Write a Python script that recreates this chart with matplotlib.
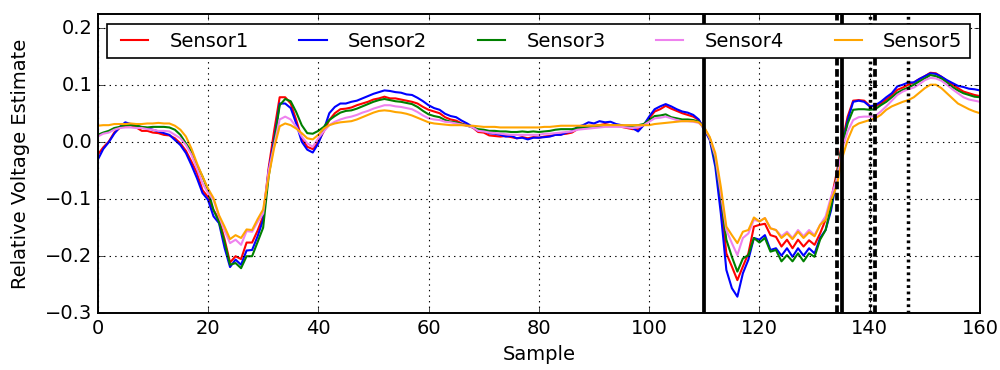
import matplotlib
matplotlib.use("Agg")
import matplotlib.pyplot as plt
import numpy as np

plt.style.use("classic")
plt.rcParams["font.family"] = ["DejaVu Sans"]
plt.rcParams["font.size"] = 14
plt.rcParams["lines.scale_dashes"] = False

samples = np.arange(0, 161)

sensor1 = [
    -0.022, -0.009, 0.001, 0.017, 0.025, 0.029, 0.030, 0.026, 0.020, 0.020,
    0.017, 0.016, 0.013, 0.012, 0.007, -0.002, -0.015, -0.034, -0.054, -0.084,
    -0.096, -0.119, -0.135, -0.170, -0.211, -0.200, -0.205, -0.176, -0.176, -0.155,
    -0.130, -0.045, 0.020, 0.079, 0.079, 0.068, 0.039, 0.007, -0.008, -0.012,
    0.001, 0.019, 0.039, 0.051, 0.058, 0.059, 0.061, 0.065, 0.068, 0.071,
    0.075, 0.077, 0.080, 0.077, 0.077, 0.075, 0.073, 0.071, 0.068, 0.062,
    0.057, 0.054, 0.051, 0.044, 0.040, 0.038, 0.033, 0.030, 0.026, 0.018,
    0.017, 0.012, 0.011, 0.010, 0.011, 0.009, 0.007, 0.009, 0.007, 0.009,
    0.008, 0.010, 0.011, 0.013, 0.014, 0.015, 0.017, 0.023, 0.026, 0.029,
    0.029, 0.030, 0.032, 0.030, 0.029, 0.027, 0.025, 0.023, 0.023, 0.030,
    0.042, 0.054, 0.058, 0.064, 0.059, 0.055, 0.051, 0.048, 0.045, 0.039,
    0.023, 0.007, -0.031, -0.101, -0.195, -0.218, -0.242, -0.218, -0.195, -0.148,
    -0.145, -0.143, -0.163, -0.166, -0.183, -0.171, -0.186, -0.171, -0.183, -0.172,
    -0.180, -0.160, -0.136, -0.101, -0.054, 0.000, 0.045, 0.073, 0.074, 0.073,
    0.064, 0.063, 0.068, 0.075, 0.083, 0.092, 0.096, 0.101, 0.105, 0.111,
    0.116, 0.122, 0.121, 0.115, 0.108, 0.101, 0.095, 0.089, 0.086, 0.083, 0.081,
]

sensor2 = [
    -0.031, -0.012, 0.000, 0.015, 0.027, 0.035, 0.032, 0.030, 0.026, 0.025,
    0.022, 0.019, 0.016, 0.013, 0.004, -0.005, -0.019, -0.040, -0.063, -0.089,
    -0.101, -0.130, -0.142, -0.185, -0.219, -0.206, -0.215, -0.190, -0.189, -0.165,
    -0.136, -0.050, 0.005, 0.068, 0.068, 0.060, 0.033, 0.001, -0.013, -0.018,
    -0.002, 0.022, 0.051, 0.062, 0.068, 0.068, 0.071, 0.073, 0.077, 0.081,
    0.085, 0.088, 0.091, 0.090, 0.088, 0.087, 0.084, 0.083, 0.078, 0.072,
    0.065, 0.060, 0.057, 0.050, 0.046, 0.044, 0.038, 0.033, 0.027, 0.020,
    0.020, 0.016, 0.015, 0.013, 0.010, 0.011, 0.007, 0.008, 0.005, 0.008,
    0.008, 0.009, 0.010, 0.013, 0.013, 0.017, 0.019, 0.027, 0.030, 0.035,
    0.033, 0.037, 0.035, 0.036, 0.032, 0.030, 0.027, 0.025, 0.019, 0.030,
    0.045, 0.058, 0.063, 0.067, 0.063, 0.058, 0.054, 0.052, 0.048, 0.040,
    0.022, 0.004, -0.043, -0.125, -0.224, -0.256, -0.271, -0.230, -0.206, -0.168,
    -0.171, -0.163, -0.189, -0.186, -0.199, -0.186, -0.201, -0.186, -0.199, -0.186,
    -0.195, -0.168, -0.154, -0.119, -0.066, -0.005, 0.039, 0.071, 0.073, 0.071,
    0.063, 0.065, 0.071, 0.079, 0.086, 0.098, 0.101, 0.105, 0.105, 0.111,
    0.116, 0.121, 0.120, 0.115, 0.109, 0.104, 0.099, 0.097, 0.094, 0.093, 0.091,
]

sensor3 = [
    0.013, 0.017, 0.020, 0.025, 0.027, 0.030, 0.030, 0.029, 0.027, 0.026,
    0.027, 0.027, 0.027, 0.026, 0.022, 0.013, -0.002, -0.016, -0.040, -0.060,
    -0.084, -0.119, -0.140, -0.175, -0.215, -0.212, -0.221, -0.200, -0.200, -0.175,
    -0.150, -0.060, 0.000, 0.065, 0.076, 0.072, 0.053, 0.030, 0.016, 0.015,
    0.020, 0.027, 0.039, 0.046, 0.052, 0.055, 0.056, 0.059, 0.063, 0.067,
    0.071, 0.074, 0.076, 0.074, 0.072, 0.071, 0.069, 0.067, 0.062, 0.055,
    0.049, 0.046, 0.044, 0.039, 0.036, 0.035, 0.032, 0.029, 0.026, 0.023,
    0.022, 0.020, 0.020, 0.019, 0.019, 0.018, 0.018, 0.019, 0.018, 0.019,
    0.018, 0.019, 0.020, 0.022, 0.023, 0.023, 0.023, 0.025, 0.026, 0.027,
    0.028, 0.028, 0.029, 0.029, 0.029, 0.029, 0.029, 0.029, 0.030, 0.032,
    0.039, 0.046, 0.047, 0.049, 0.044, 0.042, 0.040, 0.040, 0.039, 0.036,
    0.024, 0.007, -0.031, -0.095, -0.171, -0.201, -0.227, -0.204, -0.198, -0.168,
    -0.176, -0.168, -0.192, -0.189, -0.209, -0.198, -0.209, -0.195, -0.209, -0.195,
    -0.201, -0.171, -0.154, -0.113, -0.060, -0.005, 0.033, 0.057, 0.058, 0.058,
    0.057, 0.058, 0.065, 0.071, 0.079, 0.087, 0.092, 0.096, 0.101, 0.107,
    0.112, 0.118, 0.116, 0.112, 0.105, 0.097, 0.091, 0.086, 0.083, 0.080, 0.079,
]

sensor4 = [
    0.010, 0.015, 0.017, 0.022, 0.025, 0.026, 0.026, 0.025, 0.025, 0.023,
    0.022, 0.020, 0.020, 0.019, 0.013, 0.007, -0.005, -0.022, -0.046, -0.072,
    -0.089, -0.101, -0.130, -0.155, -0.177, -0.171, -0.180, -0.156, -0.157, -0.140,
    -0.125, -0.050, -0.005, 0.040, 0.045, 0.040, 0.027, 0.010, -0.002, -0.008,
    0.007, 0.019, 0.030, 0.036, 0.040, 0.043, 0.045, 0.048, 0.052, 0.055,
    0.059, 0.062, 0.065, 0.065, 0.063, 0.062, 0.060, 0.058, 0.053, 0.047,
    0.042, 0.040, 0.039, 0.036, 0.035, 0.033, 0.031, 0.029, 0.026, 0.020,
    0.019, 0.017, 0.016, 0.015, 0.014, 0.013, 0.013, 0.013, 0.013, 0.013,
    0.013, 0.015, 0.015, 0.016, 0.017, 0.018, 0.019, 0.022, 0.023, 0.024,
    0.025, 0.026, 0.027, 0.027, 0.027, 0.027, 0.026, 0.025, 0.026, 0.030,
    0.036, 0.042, 0.043, 0.045, 0.042, 0.039, 0.037, 0.037, 0.036, 0.034,
    0.025, 0.007, -0.025, -0.090, -0.154, -0.177, -0.198, -0.168, -0.160, -0.136,
    -0.139, -0.133, -0.151, -0.154, -0.165, -0.157, -0.168, -0.154, -0.165, -0.154,
    -0.163, -0.145, -0.130, -0.095, -0.066, -0.012, 0.019, 0.039, 0.044, 0.045,
    0.045, 0.046, 0.054, 0.063, 0.073, 0.083, 0.089, 0.093, 0.096, 0.102,
    0.109, 0.113, 0.112, 0.108, 0.101, 0.093, 0.086, 0.079, 0.075, 0.073, 0.071,
]

sensor5 = [
    0.029, 0.030, 0.030, 0.032, 0.032, 0.032, 0.033, 0.032, 0.032, 0.033,
    0.033, 0.034, 0.033, 0.033, 0.029, 0.022, 0.010, -0.011, -0.037, -0.060,
    -0.081, -0.098, -0.128, -0.148, -0.170, -0.163, -0.168, -0.153, -0.154, -0.135,
    -0.118, -0.060, -0.010, 0.028, 0.033, 0.030, 0.024, 0.016, 0.007, 0.005,
    0.013, 0.024, 0.030, 0.033, 0.035, 0.036, 0.037, 0.040, 0.044, 0.048,
    0.052, 0.055, 0.056, 0.055, 0.053, 0.052, 0.050, 0.047, 0.043, 0.039,
    0.035, 0.033, 0.032, 0.031, 0.030, 0.030, 0.030, 0.029, 0.029, 0.028,
    0.027, 0.027, 0.027, 0.026, 0.026, 0.026, 0.026, 0.026, 0.026, 0.026,
    0.026, 0.027, 0.027, 0.028, 0.029, 0.029, 0.029, 0.029, 0.029, 0.029,
    0.029, 0.030, 0.030, 0.030, 0.030, 0.030, 0.030, 0.030, 0.030, 0.030,
    0.030, 0.032, 0.033, 0.034, 0.035, 0.036, 0.037, 0.037, 0.037, 0.035,
    0.026, 0.009, -0.019, -0.078, -0.148, -0.163, -0.177, -0.157, -0.154, -0.132,
    -0.139, -0.133, -0.151, -0.154, -0.168, -0.160, -0.170, -0.157, -0.168, -0.158,
    -0.165, -0.145, -0.136, -0.101, -0.078, -0.028, 0.004, 0.027, 0.033, 0.036,
    0.039, 0.042, 0.048, 0.057, 0.063, 0.067, 0.071, 0.074, 0.079, 0.087,
    0.095, 0.101, 0.101, 0.095, 0.086, 0.077, 0.068, 0.063, 0.058, 0.054, 0.051,
]

series_names = ["Sensor1", "Sensor2", "Sensor3", "Sensor4", "Sensor5"]
series_colors = ["red", "blue", "green", "violet", "orange"]

solid_marks = [110, 135]
dashed_marks = [134, 141]
dotted_marks = [140, 147]

fig = plt.figure(figsize=(10, 3.7), dpi=100, facecolor="white")
ax = fig.add_axes([0.0977, 0.1535, 0.8823, 0.8085])
ax.set_facecolor("white")

for name, color, vals in zip(series_names, series_colors,
                             [sensor1, sensor2, sensor3, sensor4, sensor5]):
    ax.plot(samples, vals, color=color, lw=1.5, label=name)

for xv in solid_marks:
    ax.axvline(xv, color="black", lw=2.7, linestyle="-")
for xv in dashed_marks:
    ax.axvline(xv, color="black", lw=2.7, linestyle=(0, (5.5, 2.6)),
               dash_capstyle="butt")
for xv in dotted_marks:
    ax.axvline(xv, color="black", lw=2.5, linestyle=(0, (2.0, 2.6)),
               dash_capstyle="butt")

ax.set_xlim(0, 160)
ax.set_ylim(-0.3, 0.225)
ax.set_xticks(np.arange(0, 161, 20))
ax.set_yticks([-0.3, -0.2, -0.1, 0.0, 0.1, 0.2])
ax.grid(True, color="black", linestyle=":", linewidth=0.8)
ax.set_xlabel("Sample", fontsize=14)
ax.set_ylabel("Relative Voltage Estimate", fontsize=14, labelpad=11)
ax.tick_params(labelsize=14)
for sp in ax.spines.values():
    sp.set_linewidth(1.4)

leg = ax.legend(loc="upper center", ncol=5, mode="expand", fontsize=14,
                borderaxespad=0.5, handlelength=2.0, frameon=True,
                fancybox=False)
leg.get_frame().set_edgecolor("black")
leg.get_frame().set_linewidth(1.2)

fig.savefig("out.png", dpi=100, facecolor="white")
